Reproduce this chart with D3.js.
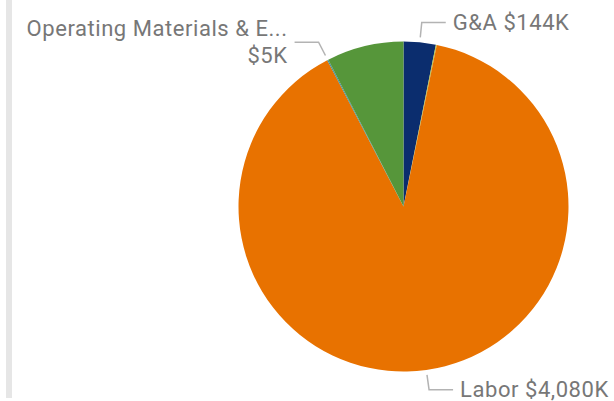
<!DOCTYPE html>
<html>
<head>
<meta charset="utf-8">
<script src="https://cdn.jsdelivr.net/npm/d3@7"></script>
<style>
  body { margin: 0; background: #fff; }
  svg { display: block; }
  text { font-family: Roboto, "DejaVu Sans", sans-serif; fill: #777; }
</style>
</head>
<body>
<svg id="content"></svg>
<script>
// Data (clockwise from 12 o'clock)
var categories = ['G&A', 'Facilities', 'Labor', 'Operating Materials & Equipment', 'Travel'];
var values = [144, 4, 4080, 5, 345];
var colors = ['#0b2d6e', '#b4c63c', '#e87200', '#3a8c9c', '#56963a'];
// label text lines shown for each slice ('' = label hidden)
var labelLines = [['G&A $144K'], [], ['Labor $4,080K'], ['Operating Materials & E...', '$5K'], []];

var width = 614, height = 401;
var cx = 403.5, cy = 206.5, radius = 165;

var svg = d3.select('#content')
  .attr('width', width)
  .attr('height', height);

// left frame strip
svg.append('rect')
  .attr('x', 6).attr('y', 0)
  .attr('width', 6).attr('height', 398)
  .attr('fill', '#e6e6e6');

var data = categories.map(function(c, i) {
  return {name: c, value: values[i], color: colors[i], lines: labelLines[i]};
});

var pie = d3.pie().sort(null).value(function(d) { return d.value; });
var arc = d3.arc().innerRadius(0).outerRadius(radius);

var g = svg.append('g').attr('transform', 'translate(' + cx + ',' + cy + ')');

var arcs = pie(data);

g.selectAll('path.slice')
  .data(arcs)
  .enter().append('path')
  .attr('class', 'slice')
  .attr('d', arc)
  .attr('fill', function(d) { return d.data.color; });

// leader lines + labels
var inner = d3.arc().innerRadius(radius + 5).outerRadius(radius + 5);
var outer = d3.arc().innerRadius(radius + 20).outerRadius(radius + 20);
var lineH = 27;

var labelled = arcs.filter(function(d) { return d.data.lines.length > 0; });

labelled.forEach(function(d) {
  var p1 = inner.centroid(d);
  var p2 = outer.centroid(d);
  var mid = (d.startAngle + d.endAngle) / 2;
  var right = Math.sin(mid) > 0 ? 1 : -1;
  var p3 = [p2[0] + right * 24, p2[1]];

  g.append('polyline')
    .attr('points', [p1, p2, p3].map(function(p) { return p.join(','); }).join(' '))
    .attr('fill', 'none')
    .attr('stroke', '#b3b3b3')
    .attr('stroke-width', 1.5);

  var n = d.data.lines.length;
  var t = g.append('text')
    .attr('x', p3[0] + right * 7)
    .attr('y', p3[1])
    .attr('text-anchor', right > 0 ? 'start' : 'end')
    .style('font-size', '22px')
    .style('letter-spacing', '0.55px');

  d.data.lines.forEach(function(line, i) {
    t.append('tspan')
      .attr('x', p3[0] + right * 7)
      .attr('y', p3[1] + (i - (n - 1) / 2) * lineH)
      .attr('dy', '0.35em')
      .text(line);
  });
});
</script>
</body>
</html>
